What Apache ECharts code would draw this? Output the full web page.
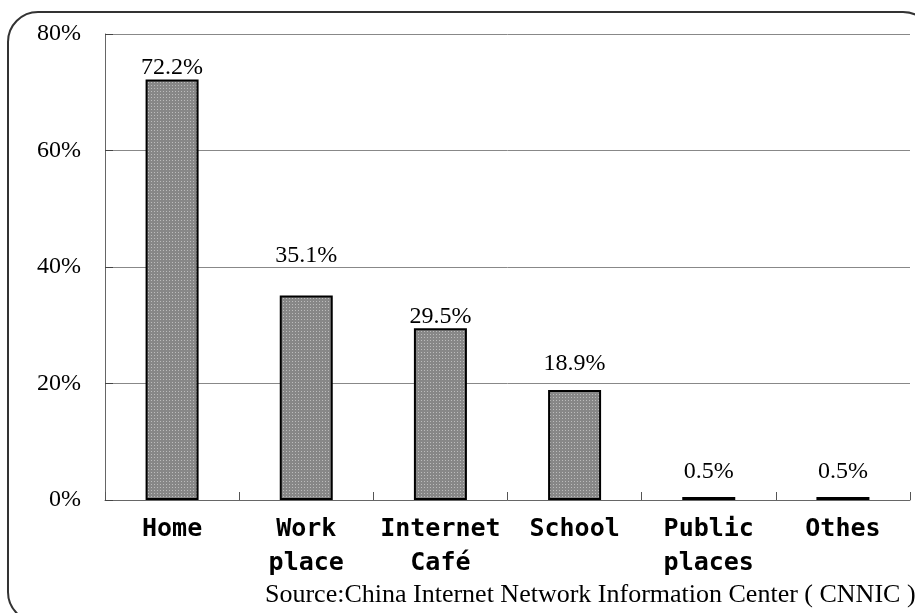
<!DOCTYPE html>
<html>
<head>
<meta charset="utf-8">
<script src="https://cdn.jsdelivr.net/npm/echarts@6/dist/echarts.min.js"></script>
<style>
  html, body { margin: 0; padding: 0; background: #fff; }
  #chart { width: 915px; height: 613px; }
</style>
</head>
<body>
<div id="chart"></div>
<script>
// Where Chinese internet users go online
const places = ['Home', 'Work\nplace', 'Internet\nCafé', 'School', 'Public\nplaces', 'Othes'];
const shares = [72.2, 35.1, 29.5, 18.9, 0.5, 0.5];
const yTicks = [0, 20, 40, 60, 80];
const sourceNote = 'Source:China Internet Network Information Center ( CNNIC )';

// Gap between each bar top and its value label (layout only)
const labelLift = [0, 28, -1, 14, 13, 13];

// Stippled grey fill for the bars
function stipple() {
  const c = document.createElement('canvas');
  c.width = 3; c.height = 3;
  const g = c.getContext('2d');
  g.fillStyle = '#878787';
  g.fillRect(0, 0, 3, 3);
  g.fillStyle = '#bcbcbc';
  g.fillRect(1, 1, 1, 1);
  return c;
}

const serif = "'Liberation Serif', 'Times New Roman', serif";
const mono = "'DejaVu Sans Mono', 'Liberation Mono', monospace";

const chart = echarts.init(document.getElementById('chart'));
const fill = { image: stipple(), repeat: 'repeat' };

chart.setOption({
  animation: false,
  backgroundColor: '#fff',
  grid: { left: 105, right: 5, top: 34, bottom: 113 },
  xAxis: {
    type: 'category',
    data: places,
    boundaryGap: true,
    axisLine: { lineStyle: { color: '#666', width: 1 } },
    axisTick: { show: true, inside: true, length: 8, lineStyle: { color: '#555' } },
    axisLabel: {
      interval: 0,
      margin: 12,
      color: '#000',
      fontFamily: mono,
      fontWeight: 'bold',
      fontSize: 25,
      lineHeight: 34
    }
  },
  yAxis: {
    type: 'value',
    min: yTicks[0],
    max: yTicks[yTicks.length - 1],
    interval: yTicks[1] - yTicks[0],
    axisLine: { show: true, lineStyle: { color: '#666', width: 1 } },
    axisTick: { show: true, inside: true, length: 8, lineStyle: { color: '#444' } },
    splitLine: { lineStyle: { color: '#888', width: 1 } },
    axisLabel: {
      margin: 24,
      color: '#000',
      fontFamily: serif,
      fontSize: 24,
      formatter: '{value}%'
    }
  },
  series: [{
    type: 'bar',
    barWidth: 53,
    data: shares.map((v, i) => ({
      value: v,
      label: { distance: labelLift[i] }
    })),
    itemStyle: { color: fill, borderColor: '#000', borderWidth: 2 },
    label: {
      show: true,
      position: 'top',
      color: '#000',
      fontFamily: serif,
      fontSize: 24,
      formatter: p => p.value.toFixed(1) + '%'
    }
  }],
  graphic: [
    {
      type: 'rect',
      shape: { x: 8, y: 12, width: 925, height: 610, r: 30 },
      style: { fill: 'none', stroke: '#333', lineWidth: 2 },
      z: 100
    },
    {
      type: 'text',
      left: 265,
      top: 582,
      style: { text: sourceNote, fill: '#000', font: '26px ' + serif }
    }
  ]
});
</script>
</body>
</html>
